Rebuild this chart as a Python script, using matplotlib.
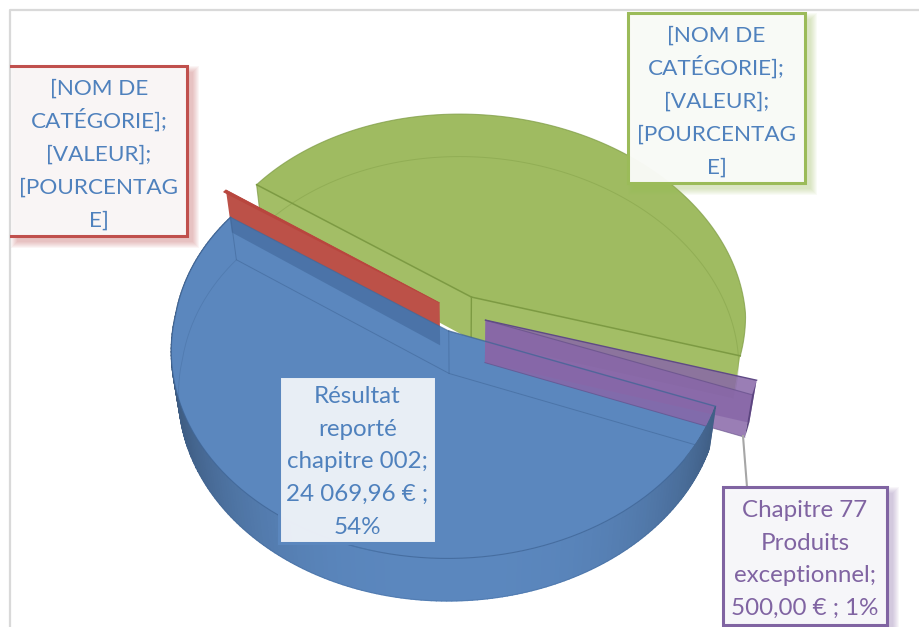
import numpy as np
import matplotlib
matplotlib.use("Agg")
import matplotlib.pyplot as plt
from matplotlib.patches import Polygon, Rectangle

# ---- data ----
categories = ["Résultat reporté chapitre 002", "Chapitre rouge", "Chapitre vert", "Chapitre 77 Produits exceptionnel"]
values = [24069.96, 100.0, 19800.0, 500.0]
label_texts = ["Résultat\nreporté\nchapitre 002;\n24 069,96 € ;\n54%",
               "[NOM DE\nCATÉGORIE];\n[VALEUR];\n[POURCENTAG\nE]",
               "[NOM DE\nCATÉGORIE];\n[VALEUR];\n[POURCENTAG\nE]",
               "Chapitre 77\nProduits\nexceptionnel;\n500,00 € ; 1%"]
face_colors = ["#5B87BE", "#BC5148", "#9FBB61", "#8867A8"]
edge_colors = ["#3F6596", "#93332C", "#7C9A42", "#5F4A85"]
start_angle = -20.7
explode = 0.094

plt.rcParams['font.family'] = ['Lato', 'DejaVu Sans']
fig = plt.figure(figsize=(9.2, 6.27), dpi=100)
ax = fig.add_axes([0, 0, 1, 1])
ax.set_xlim(0, 920); ax.set_ylim(627, 0); ax.axis('off')

CX, CY, A, B, K, SHEAR = 461, 314, 274, 203, 0.093, 12
DZ, XS = 42.5, 0.975

def proj(X, Y, low=False):
    s = 1 / (1 + K * Y)
    x = A * X * s - SHEAR * np.maximum(Y, 0) * s; y = -B * Y * s
    if low:
        return CX + x * XS, CY + y + DZ
    return CX + x, CY + y

total = sum(values)
spans = [v / total * 360 for v in values]
slices = []
t = start_angle
for v, sp in zip(values, spans):
    t1, t0 = t, t - sp
    mid = np.radians((t0 + t1) / 2)
    slices.append(dict(t0=t0, t1=t1, ox=explode * np.cos(mid), oy=explode * np.sin(mid)))
    t = t0

def arc(sl, low=False, n=120):
    th = np.radians(np.linspace(sl['t0'], sl['t1'], n))
    x, y = proj(sl['ox'] + np.cos(th), sl['oy'] + np.sin(th), low)
    return np.column_stack([x, y])

def apex(sl, low=False):
    return np.array(proj(sl['ox'], sl['oy'], low))

def face(sl, low=False):
    return np.vstack([apex(sl, low), arc(sl, low)])

def radial(sl, end):
    a = arc(sl); b = arc(sl, True)
    i = 0 if end == 't0' else -1
    return np.array([apex(sl), a[i], b[i], apex(sl, True)])

blue, red, green, purple = slices

# chart frame
ax.plot([10.5, 10.5, 920], [627, 9.5, 9.5], color="#D9D9D9", lw=1.6, zorder=0)

# green
ax.add_patch(Polygon(face(green), closed=True, fc=face_colors[2], ec='none', zorder=2))
ax.add_patch(Polygon(radial(green, 't1'), closed=True, fc="#A3BE66", ec='none', zorder=2.1))
ax.add_patch(Polygon(radial(green, 't0'), closed=True, fc="#A3BE66", ec='none', zorder=2.1))
ga = arc(green); gb = arc(green, True)
ax.plot(gb[:, 0], gb[:, 1], color=edge_colors[2], lw=0.7, alpha=0.4, zorder=2.2)
ax.plot(*np.array([ga[0], apex(green), ga[-1]]).T, color=edge_colors[2], lw=1.1, zorder=2.2)
ax.plot(ga[:, 0], ga[:, 1], color=edge_colors[2], lw=0.8, alpha=0.7, zorder=2.2)
ax.plot(*np.array([apex(green), apex(green, True)]).T, color=edge_colors[2], lw=1, zorder=2.2)
ax.plot(*np.array([ga[-1], gb[-1]]).T, color=edge_colors[2], lw=0.8, alpha=0.7, zorder=2.2)

# red
red_poly = radial(red, 't0')
ax.add_patch(Polygon(red_poly, closed=True, fc=face_colors[1], ec='none', zorder=3))
ax.add_patch(Polygon(face(red), closed=True, fc="#B8463E", ec="#B8463E", lw=0.6, zorder=3.1))

# blue outer wall, shaded per segment
ba = arc(blue, n=200); bb = arc(blue, True, n=200)
ths = np.linspace(blue['t0'], blue['t1'], 200)
base = np.array(matplotlib.colors.to_rgb(face_colors[0]))
def wall_color(deg):
    return base * (1 - 0.36 * abs(np.cos(np.radians(deg))) ** 3)
for i in range(199):
    col = wall_color(ths[i])
    ax.add_patch(Polygon([ba[i], ba[i + 1], bb[i + 1], bb[i]], closed=True,
                         fc=col, ec=col, lw=1.0, zorder=4))
# blue top face
blue_face = Polygon(face(blue), closed=True, fc=face_colors[0], ec='none', zorder=5)
ax.add_patch(blue_face)
ax.plot(ba[:, 0], ba[:, 1], color=edge_colors[0], lw=0.8, alpha=0.75, zorder=5.1)
# red seen through the blue
through = Polygon(red_poly, closed=True, fc="#3E6496", ec='none', alpha=0.55, zorder=5.2)
ax.add_patch(through); through.set_clip_path(blue_face)
# blue bottom outline and radial walls seen through
ax.plot(bb[:, 0], bb[:, 1], color=edge_colors[0], lw=0.6, alpha=0.35, zorder=5.3)
for p in ([ba[0], bb[0], apex(blue, True), bb[-1]], [apex(blue), apex(blue, True)]):
    ax.plot(*np.array(p).T, color=edge_colors[0], lw=0.7, alpha=0.55, zorder=5.3)
ax.plot(*np.array([ba[0], apex(blue)]).T, color=edge_colors[0], lw=0.8, alpha=0.6, zorder=5.3)

# purple on top
for poly in (radial(purple, 't1'), radial(purple, 't0')):
    ax.add_patch(Polygon(poly, closed=True, fc=face_colors[3], ec='none', alpha=0.85, zorder=6))
pa = arc(purple); pb = arc(purple, True)
ax.add_patch(Polygon(np.vstack([pa, pb[::-1]]), closed=True, fc="#5C4580", ec='none', zorder=6.1))
ax.plot(*np.array([apex(purple), pa[-1]]).T, color=edge_colors[3], lw=1, zorder=6.2)
ax.plot(*np.array([apex(purple), pa[0]]).T, color=edge_colors[3], lw=0.8, alpha=.6, zorder=6.2)
ax.plot(*np.array([apex(purple, True), pb[0]]).T, color=edge_colors[3], lw=0.7, alpha=.6, zorder=6.2)
# blue front edge and right end of the wall stay above the purple
ax.plot(*np.array([apex(blue), ba[-1]]).T, color=edge_colors[0], lw=1, alpha=.75, zorder=6.3)
for i in range(184, 199):
    col = wall_color(ths[i])
    ax.add_patch(Polygon([ba[i], ba[i + 1], bb[i + 1], bb[i]], closed=True,
                         fc=col, ec=col, lw=0.8, zorder=6.25))

# leader line
lead_x = [743, 747]; lead_y = [436, 487]
ax.plot(lead_x, lead_y, color="#A6A6A6", lw=1.5, zorder=6.5)

# data labels
boxes = [(279, 376, 436, 543), (11, 66, 187, 236), (628, 13, 805, 183), (723, 487, 887, 625)]
border = ["#5B87BE", "#C0504D", "#9BBB59", "#8064A2"]
txtcol = ["#4F81BD", "#4F81BD", "#4F81BD", "#8064A2"]
fills = ["#EEF2F8", "#FAF7F7", "#FAFBF8", "#F8F8FB"]
first_base = [27, 29, 29, 30]
pitch = [32.7, 33, 33, 32.5]
sizes = [17.4, 16.2, 16.2, 17.4]
for (x0, y0, x1, y1), bc, tc, fc, lab, fb, pt, fs in zip(boxes, border, txtcol, fills, label_texts, first_base, pitch, sizes):
    for g in range(7, 0, -1):
        ax.add_patch(Rectangle((x0 + 7 - g, y0 + 7 - g), x1 - x0 + 2 * g - 2, y1 - y0 + 2 * g - 2,
                               fc=bc, ec='none', alpha=0.055, zorder=7))
    ax.add_patch(Rectangle((x0, y0), x1 - x0, y1 - y0, fc=fc, ec='none', alpha=0.97, zorder=8))
    for i, line in enumerate(lab.split("\n")):
        ax.text((x0 + x1) / 2, y0 + fb + i * pt, line, ha='center', va='baseline', color=tc,
                fontsize=fs, zorder=9)
    if x0 == 11:
        ax.plot([x0, x1, x1, x0], [y0, y0, y1, y1], color=bc, lw=2.2, zorder=8.5, solid_joinstyle='miter')
    else:
        ax.add_patch(Rectangle((x0, y0), x1 - x0, y1 - y0, fc='none', ec=bc, lw=2.2, zorder=8.5))

fig.savefig("out.png", dpi=100)
